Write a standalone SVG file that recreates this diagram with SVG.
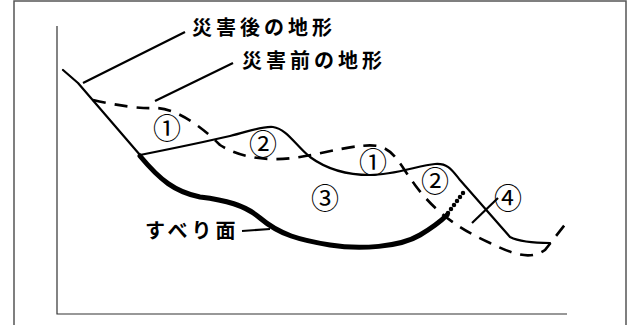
<svg xmlns="http://www.w3.org/2000/svg" width="632" height="325" viewBox="0 0 632 325">
  <style>
    .frame { fill: none; stroke: #555; stroke-width: 1.5; }
    .axis { fill: none; stroke: #333; stroke-width: 1.2; }
    .after { fill: none; stroke: #000; stroke-width: 2.2; stroke-linejoin: round; stroke-linecap: round; }
    .before { fill: none; stroke: #000; stroke-width: 2.6; stroke-dasharray: 13 9; }
    .slip { fill: none; stroke: #000; stroke-width: 5; stroke-linecap: round; }
    .dots { fill: none; stroke: #000; stroke-width: 4.5; stroke-linecap: round; stroke-dasharray: 0 5; }
    .lead { fill: none; stroke: #000; stroke-width: 2.2; }
    .lbl { font-family: "Noto Sans CJK JP", "Noto Sans", sans-serif; font-size: 20px; font-weight: 700; letter-spacing: 4px; fill: #000; }
    .num { font-family: "Noto Sans CJK JP", "DejaVu Sans", sans-serif; font-size: 28px; fill: #000; text-anchor: middle; dominant-baseline: central; }
  </style>

  <rect width="632" height="325" fill="#fff"/>

  <!-- outer frame -->
  <path class="frame" d="M14,325 V1 H626 V325"/>

  <!-- axes -->
  <path class="axis" d="M57,26 V314 H567"/>

  <g id="connectors">
    <!-- terrain after the landslide -->
    <path class="after" d="M63,70 L78,83 L140,155 C165,150 200,143 230,136 C250,131 262,126 273,127 C287,129 296,146 310,157 C325,168 345,175 370,175 C395,175 420,165 435,164 C448,163 452,170 460,180 L510,237 C520,242 535,243 550,243"/>
    <!-- terrain before the landslide -->
    <path class="before" d="M93,100 C115,105 140,109 155,108 C175,108 200,125 220,145 C240,158 270,162 300,157 C330,152 360,143 378,146 C395,150 400,165 415,185 C430,205 450,225 490,243 C515,255 530,260 545,250 L567,222"/>
    <!-- sliding surface -->
    <path class="slip" d="M140,156 C160,180 175,192 200,197 C225,200 245,205 260,218 C280,235 300,240 330,245 C360,250 400,247 420,235 C435,226 442,220 447,215"/>
    <path class="dots" d="M448,213 L466,189"/>
    <!-- leader lines -->
    <path class="lead" d="M185,32 L83,83"/>
    <path class="lead" d="M233,63 L155,101"/>
    <path class="lead" d="M242,231 L270,229"/>
    <path class="lead" d="M498,198 L472,223"/>
  </g>

  <g id="label-after"><text class="lbl" x="192" y="35">災害後の地形</text></g>
  <g id="label-before"><text class="lbl" x="242" y="68">災害前の地形</text></g>
  <g id="label-slip"><text class="lbl" x="145" y="238">すべり面</text></g>

  <g id="zone-1a"><text class="num" x="167" y="127">①</text></g>
  <g id="zone-2a"><text class="num" x="263" y="143">②</text></g>
  <g id="zone-1b"><text class="num" x="373" y="161">①</text></g>
  <g id="zone-2b"><text class="num" x="435" y="180">②</text></g>
  <g id="zone-3"><text class="num" x="325" y="197">③</text></g>
  <g id="zone-4"><text class="num" x="508" y="197">④</text></g>
</svg>
